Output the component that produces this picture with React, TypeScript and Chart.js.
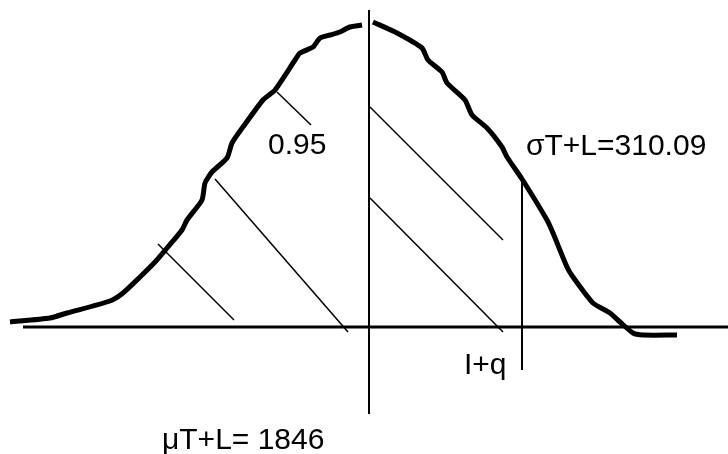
import React, { useEffect, useRef } from "react";
import { Chart, registerables } from "chart.js";

Chart.register(...registerables);

// Coordinates: x relative to the mean line (μ), y height above the horizontal axis
const curveLeftX = [-359, -319, -302, -259, -246, -229, -214, -202, -187, -182, -167, -164, -157, -142, -137, -126, -106, -94, -74, -69, -56, -49, -39, -29, -19, -7];
const curveLeftY = [5, 9, 14, 26, 34, 50, 65, 79, 97, 107, 127, 144, 155, 169, 184, 200, 227, 237, 267, 274, 280, 289, 292, 295, 300, 302];
const curveRightX = [4, 28, 53, 59, 73, 78, 96, 103, 118, 133, 138, 153, 178, 184, 198, 204, 224, 241, 251, 264, 274, 308];
const curveRightY = [305, 294, 279, 267, 255, 244, 227, 212, 199, 180, 170, 148, 107, 94, 60, 50, 24, 14, 5, -6, -8, -8];

const axisX = [-346, 359];
const axisY = [0, 0];
const meanLineX = [0, 0];
const meanLineY = [-87, 317];
const quantileLineX = [153, 153];
const quantileLineY = [149, -43];

// hatch segments: [x1, y1, x2, y2]
const hatches: number[][] = [
  [-92, 235, -58, 202],
  [-154, 148, -21, -5],
  [-211, 83, -135, 7],
  [1, 220, 134, 87],
  [1, 129, 134, -5],
];

const labelTexts = ["0.95", "σT+L=310.09", "I+q", "μT+L= 1846"];
const labelAnchorX = [-101, 157, 95, -207];
const labelAnchorY = [173, 172, -47, -122];

const pts = (xs: number[], ys: number[]) => xs.map((x, i) => ({ x, y: ys[i] }));

export default function App() {
  const ref = useRef<HTMLCanvasElement>(null);
  useEffect(() => {
    if (!ref.current) return;
    const base = { showLine: true, pointRadius: 0, borderColor: "#000", fill: false, clip: false as any };
    const datasets: any[] = [
      { ...base, data: pts(axisX, axisY), borderWidth: 3 },
      { ...base, data: pts(meanLineX, meanLineY), borderWidth: 2 },
      { ...base, data: pts(quantileLineX, quantileLineY), borderWidth: 2 },
      ...hatches.map((h) => ({ ...base, data: [{ x: h[0], y: h[1] }, { x: h[2], y: h[3] }], borderWidth: 1.5 })),
      { ...base, data: pts(curveLeftX, curveLeftY), borderWidth: 5, tension: 0.2, borderJoinStyle: "round" },
      { ...base, data: pts(curveRightX, curveRightY), borderWidth: 5, tension: 0.2, borderJoinStyle: "round" },
    ];
    const labelPlugin = {
      id: "labels",
      afterDatasetsDraw(chart: any) {
        const ctx = chart.ctx;
        const xs = chart.scales.x;
        const ys = chart.scales.y;
        ctx.save();
        ctx.fillStyle = "#000";
        ctx.font = '30px "Liberation Sans", Arial, sans-serif';
        ctx.textAlign = "left";
        ctx.textBaseline = "alphabetic";
        labelTexts.forEach((t, i) => {
          ctx.fillText(t, xs.getPixelForValue(labelAnchorX[i]), ys.getPixelForValue(labelAnchorY[i]));
        });
        ctx.restore();
      },
    };
    const chart = new Chart(ref.current, {
      type: "scatter",
      data: { datasets },
      options: {
        animation: false,
        responsive: false,
        layout: { padding: 0 },
        plugins: { legend: { display: false }, tooltip: { enabled: false } },
        scales: {
          x: { type: "linear", min: -369, max: 359, display: false },
          y: { type: "linear", min: -127, max: 327, display: false },
        },
      },
      plugins: [labelPlugin],
    });
    return () => chart.destroy();
  }, []);
  return (
    <div style={{ position: "fixed", left: 0, top: 0, width: 728, height: 454, background: "#fff" }}>
      <canvas ref={ref} width={728} height={454} />
    </div>
  );
}
